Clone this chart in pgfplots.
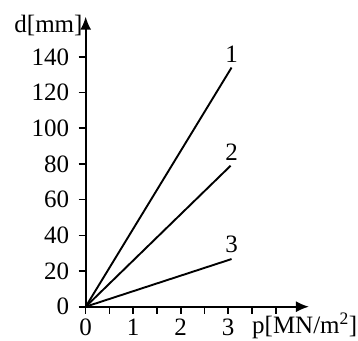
\documentclass[border=0pt]{standalone}
\usepackage{pgfplots}
\pgfplotsset{compat=1.18}
\usepackage{fontspec}
\setmainfont{Liberation Serif}
\usetikzlibrary{arrows.meta}
\begin{document}
\begin{tikzpicture}[font=\fontsize{25}{29}\selectfont]
\begin{axis}[
  scale only axis,
  width=223.3pt, height=290pt,
  xmin=0, xmax=4.7, ymin=0, ymax=162.5,
  axis lines=left,
  axis line style={line width=1.7pt, -{Latex[length=13pt,width=11pt]}},
  tick style={line width=1.6pt, black},
  tick align=outside,
  major tick length=7pt,
  xtick={0,0.5,1,1.5,2,2.5,3,3.5,4},
  xticklabels={0,,1,,2,,3,,},
  ytick={0,20,40,60,80,100,120,140},
  /pgf/number format/assume math mode=true,
  yticklabel style={xshift=-6pt},
  xticklabel style={yshift=-2pt},
  clip=false,
]
\addplot[black, line width=1.9pt] coordinates {(0,0) (3.07,134)};
\addplot[black, line width=1.9pt] coordinates {(0,0) (3.05,79)};
\addplot[black, line width=1.9pt] coordinates {(0,0) (3.07,26.7)};
\node[anchor=south, inner sep=0pt, yshift=5pt] at (axis cs:3.07,134) {1};
\node[anchor=south, inner sep=0pt, yshift=5pt] at (axis cs:3.07,79) {2};
\node[anchor=south, inner sep=0pt, yshift=6pt] at (axis cs:3.07,26.7) {3};
\node[anchor=east, inner sep=0pt] at (axis cs:0,157.7) [xshift=-3pt] {d[mm]};
\node[anchor=base west, inner sep=0pt] at (axis cs:3.5,0) [yshift=-27pt] {p[MN/m\textsuperscript{2}]};
\end{axis}
\pgfresetboundingbox
\path (-85.7pt,-33.3pt) rectangle (272.3pt,306.7pt);
\end{tikzpicture}
\end{document}
